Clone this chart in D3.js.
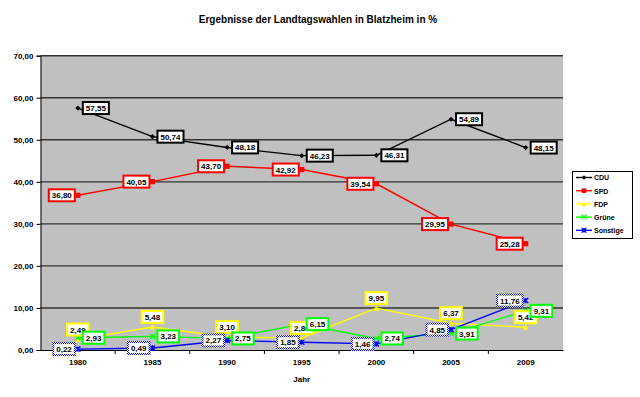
<!DOCTYPE html>
<html><head><meta charset="utf-8">
<script src="https://cdn.jsdelivr.net/npm/d3@7"></script>
<style>body{margin:0;background:#fff}svg{display:block}text{font-family:"Liberation Sans",Arial,sans-serif;font-weight:bold}</style>
</head><body><svg id="c" width="640" height="397"></svg>
<script>
const years = ["1980","1985","1990","1995","2000","2005","2009"];
const cdu = [57.55, 50.74, 48.18, 46.23, 46.31, 54.89, 48.15];
const spd = [36.80, 40.05, 43.70, 42.92, 39.54, 29.95, 25.28];
const fdp = [2.49, 5.48, 3.10, 2.86, 9.95, 6.37, 5.42];
const gruene = [2.93, 3.23, 2.75, 6.15, 2.74, 3.91, 9.31];
const sonstige = [0.22, 0.49, 2.27, 1.85, 1.46, 4.85, 11.76];
const yTicks = [0,10,20,30,40,50,60,70];
const seriesNames = ["CDU","SPD","FDP","Grüne","Sonstige"];

const series = [
  {name:seriesNames[0], values:cdu, color:"#000000", marker:"diamond", pos:"right"},
  {name:seriesNames[1], values:spd, color:"#FF0000", marker:"square", pos:"left"},
  {name:seriesNames[2], values:fdp, color:"#FFFF00", marker:"triangle", pos:"above"},
  {name:seriesNames[3], values:gruene, color:"#00FF00", marker:"x", pos:"right"},
  {name:seriesNames[4], values:sonstige, color:"#0000FF", marker:"star", pos:"left"}
];

const svg = d3.select("#c");
const L=40.5, R=563, T=55.7, B=350;
const x = d3.scaleBand().domain(years).range([L,R]);
const y = d3.scaleLinear().domain([0,70]).range([B,T]);
const cx = d => x(d)+x.bandwidth()/2;

const defs = svg.append("defs");
const pat = defs.append("pattern").attr("id","chk").attr("width",2).attr("height",2).attr("patternUnits","userSpaceOnUse");
pat.append("rect").attr("width",2).attr("height",2).attr("fill","#fff");
pat.append("rect").attr("width",1).attr("height",1).attr("fill","#0000FF");
pat.append("rect").attr("x",1).attr("y",1).attr("width",1).attr("height",1).attr("fill","#0000FF");

// title
svg.append("text").attr("x",318).attr("y",23).attr("text-anchor","middle").attr("font-size",10).text("Ergebnisse der Landtagswahlen in Blatzheim in %");

// plot area
svg.append("rect").attr("x",L).attr("y",T).attr("width",R-L).attr("height",B-T).attr("fill","#C0C0C0");
svg.append("g").selectAll("line").data(yTicks.filter(d=>d>0)).join("line")
  .attr("x1",L).attr("x2",R).attr("y1",d=>y(d)).attr("y2",d=>y(d))
  .attr("stroke","#333").attr("stroke-width",1.4);

// y axis
const ya = svg.append("g").attr("transform",`translate(${L},0)`)
  .call(d3.axisLeft(y).tickValues(yTicks).tickSize(4).tickPadding(3).tickFormat(d=>d3.format(".2f")(d).replace(".",",")));
ya.select(".domain").attr("stroke","#000").attr("stroke-width",1);
ya.selectAll("text").attr("font-size",8).attr("font-family","Liberation Sans, Arial, sans-serif").attr("font-weight","bold").attr("fill","#000");
ya.selectAll(".tick line").attr("stroke","#000");

// x axis
const xa = svg.append("g").attr("transform",`translate(0,${B})`)
  .call(d3.axisBottom(x).tickSize(0).tickPadding(9));
xa.select(".domain").attr("stroke","#000").attr("stroke-width",1);
xa.selectAll("text").attr("font-size",8).attr("font-family","Liberation Sans, Arial, sans-serif").attr("font-weight","bold").attr("fill","#000");
svg.append("g").selectAll("line").data(years.slice(1)).join("line")
  .attr("x1",d=>x(d)).attr("x2",d=>x(d)).attr("y1",B).attr("y2",B+4).attr("stroke","#000");
svg.append("text").attr("x",(L+R)/2).attr("y",382).attr("text-anchor","middle").attr("font-size",8).text("Jahr");

function marker(g, type, color, px, py, s){
  s = s||2.6;
  if(type==="diamond") g.append("path").attr("d",`M${px},${py-s}L${px+s},${py}L${px},${py+s}L${px-s},${py}Z`).attr("fill",color);
  else if(type==="square") g.append("rect").attr("x",px-s).attr("y",py-s).attr("width",2*s).attr("height",2*s).attr("fill",color);
  else if(type==="triangle") g.append("path").attr("d",`M${px},${py-s}L${px+s},${py+s}L${px-s},${py+s}Z`).attr("fill",color);
  else if(type==="x") g.append("path").attr("d",`M${px-s},${py-s}L${px+s},${py+s}M${px-s},${py+s}L${px+s},${py-s}`).attr("stroke",color).attr("stroke-width",1.3);
  else if(type==="star") g.append("path").attr("d",`M${px-s},${py-s}L${px+s},${py+s}M${px-s},${py+s}L${px+s},${py-s}M${px},${py-s}L${px},${py+s}`).attr("stroke",color).attr("stroke-width",1.3);
}

const line = d3.line().x((d,i)=>cx(years[i])).y(d=>y(d));
series.forEach(s=>{
  const g = svg.append("g");
  g.append("path").attr("d",line(s.values)).attr("fill","none").attr("stroke",s.color).attr("stroke-width",1.4);
  s.values.forEach((v,i)=>marker(g,s.marker,s.color,cx(years[i]),y(v)));
});

// data labels
const fmt = v=>d3.format(".2f")(v).replace(".",",");
series.forEach(s=>{
  const g = svg.append("g");
  s.values.forEach((v,i)=>{
    const px=cx(years[i]), py=y(v);
    const lg = g.append("g");
    const r = lg.append("rect");
    const t = lg.append("text").attr("font-size",8).attr("fill","#000").text(fmt(v));
    const w = t.node().getComputedTextLength()+6, h=12;
    let bx, by;
    if(s.pos==="right"){bx=px+5; by=py-h/2;}
    else if(s.pos==="left"){bx=px-3-w; by=py-h/2;}
    else {bx=px-w/2; by=py-4-h;}
    r.attr("x",bx).attr("y",by).attr("width",w).attr("height",h).attr("fill","#fff")
     .attr("stroke", s.name==="Sonstige" ? "url(#chk)" : s.color).attr("stroke-width",2);
    t.attr("x",bx+3).attr("y",by+h/2+3);
  });
});

// legend
svg.append("rect").attr("x",572.5).attr("y",171.5).attr("width",60).attr("height",67).attr("fill","#fff").attr("stroke","#000").attr("stroke-width",1);
series.forEach((s,i)=>{
  const ly = 177.5 + i*13.2;
  const g = svg.append("g");
  g.append("line").attr("x1",576).attr("x2",592).attr("y1",ly).attr("y2",ly).attr("stroke",s.color).attr("stroke-width",1.4);
  marker(g,s.marker,s.color,584,ly,2.3);
  g.append("text").attr("x",594).attr("y",ly+2.8).attr("font-size",7).text(s.name);
});
</script></body></html>
